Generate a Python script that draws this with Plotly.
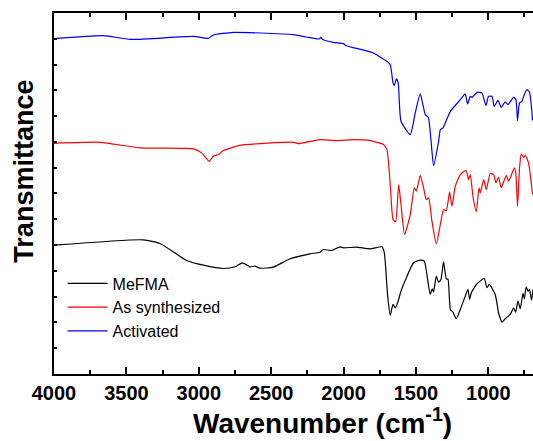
import plotly.graph_objects as go

# Wavenumbers (cm^-1) and transmittance (arbitrary units, offset curves)
wn_blue = [4000, 3659, 3472, 3037, 2934, 2899, 2761, 2575, 2347, 2257, 2167, 2157, 2146, 2070, 2001,
           1981, 1794, 1700, 1677, 1658, 1649, 1635, 1622, 1603, 1539, 1504, 1470, 1435, 1414, 1396,
           1378, 1343, 1331, 1313, 1262, 1193, 1159, 1143, 1124, 1111, 1078, 1044, 1016, 998, 974,
           959, 933, 910, 883, 864, 825, 809, 798, 784, 767, 756, 733, 715, 694]
t_blue = [344, 347, 343.3, 346.3, 344.3, 347.7, 350.3, 349.7, 348, 345.7, 343.7, 345.3, 343.5, 340.3, 339,
          337, 329.7, 321.3, 318, 299.7, 297, 303.7, 299.7, 261.3, 248, 270, 288.7, 268, 265, 243,
          217, 241.3, 253, 254.7, 271.3, 283, 288.7, 278.7, 286.3, 285.3, 290.3, 289.7, 277, 286.3, 286.3,
          276.3, 282.3, 275.3, 280.7, 278, 285.3, 283, 262, 279.7, 281.3, 286, 293, 290.3, 262]

wn_red = [4000, 3682, 3405, 3037, 2980, 2927, 2899, 2865, 2830, 2715, 2347, 2312, 2162, 2050, 1932,
          1815, 1723, 1700, 1677, 1658, 1640, 1619, 1603, 1578, 1539, 1511, 1497, 1470, 1447, 1428,
          1412, 1389, 1359, 1327, 1309, 1290, 1267, 1251, 1228, 1193, 1154, 1136, 1124, 1106, 1083,
          1064, 1055, 1032, 1014, 986, 963, 947, 929, 910, 876, 860, 820, 809, 798, 784,
          772, 756, 744, 722, 694]
t_red = [239.3, 240.3, 234.7, 233.7, 229.7, 221.3, 226.3, 228, 232, 237.3, 240.3, 239, 243, 242, 243,
         242, 238, 233, 198, 163, 160.7, 198, 178, 148, 168, 194.7, 191.3, 207.3, 194.7, 183,
         184.7, 161.3, 138.7, 161.3, 173, 172, 190.7, 176.3, 196.3, 208, 212.3, 203, 208, 186.3, 170.7,
         194.7, 189.7, 203, 193, 209, 208, 199.7, 205.3, 194.7, 207.3, 201.3, 214.7, 208, 176.3, 214.7,
         228.7, 225.3, 227.3, 219.7, 188]

wn_black = [4000, 3383, 3267, 3084, 2968, 2830, 2749, 2697, 2646, 2611, 2577, 2485, 2369, 2231, 2162,
            2140, 2082, 2024, 2001, 1910, 1815, 1734, 1718, 1695, 1677, 1658, 1642, 1626, 1603, 1573,
            1516, 1470, 1442, 1419, 1401, 1387, 1378, 1359, 1343, 1327, 1309, 1290, 1278, 1262, 1244,
            1221, 1193, 1159, 1140, 1129, 1117, 1078, 1028, 1009, 993, 952, 929, 905, 883, 848,
            825, 811, 795, 779, 760, 751, 738, 726, 715, 701, 691]
t_black = [137.3, 142.7, 139, 122, 117.3, 114, 115.7, 119.7, 115.7, 116.3, 114.3, 115.3, 123.7, 128.7, 130.3,
           133, 132, 135.7, 134.7, 135.3, 133.7, 135.7, 129.7, 86.3, 67, 78, 74.7, 79.7, 91.3, 102.3,
           119.7, 122.3, 121.3, 103, 88, 93.7, 90.3, 106.3, 100.3, 103, 120.7, 103.7, 103, 73, 70.3,
           63.7, 73, 86.3, 93, 83, 89.7, 98.7, 104, 94.7, 98, 88, 69.7, 60.3, 63.7, 68,
           74.7, 70.3, 81.3, 73.7, 89, 83.7, 95.7, 91.3, 93, 82.3, 93]

series_names = ["MeFMA", "As synthesized", "Activated"]
x_tick_vals = [4000, 3500, 3000, 2500, 2000, 1500, 1000]

fig = go.Figure()
for name, xs, ys, col in [(series_names[0], wn_black, t_black, "#000000"),
                          (series_names[1], wn_red, t_red, "#ff0000"),
                          (series_names[2], wn_blue, t_blue, "#0000ff")]:
    fig.add_trace(go.Scatter(x=xs, y=ys, mode="lines", name=name,
                             line=dict(color=col, width=1.2, shape="spline", smoothing=0.5)))

fig.update_layout(
    width=533, height=441,
    margin=dict(l=54, r=0, t=13, b=67),
    paper_bgcolor="white", plot_bgcolor="white",
    font=dict(family="Liberation Sans, Arial, sans-serif", color="black"),
    showlegend=True,
    legend=dict(x=0.018, y=0.298, xanchor="left", yanchor="top",
                font=dict(size=16, family="Liberation Sans, Arial, sans-serif"),
                itemwidth=40,
                bgcolor="rgba(0,0,0,0)", tracegroupgap=0),
    xaxis=dict(range=[4000, 691], showline=True, linewidth=2.2, linecolor="black", mirror="ticks",
               ticks="inside", ticklen=7, tickwidth=1.5, tickcolor="black",
               tickvals=x_tick_vals, ticktext=["<b>%d</b>" % v for v in x_tick_vals],
               tickfont=dict(size=20, family="Liberation Sans, Arial, sans-serif", weight="bold"),
               showgrid=False, zeroline=False,
               minor=dict(dtick=250, tick0=0, ticks="inside", ticklen=3.5, tickwidth=1.5,
                          tickcolor="black", showgrid=False)),
    yaxis=dict(range=[8.4, 369.7], showline=True, linewidth=2.2, linecolor="black", mirror=False,
               ticks="inside", ticklen=3, tickwidth=1.5, tickcolor="black",
               tick0=8.4, dtick=25.81, showticklabels=False,
               showgrid=False, zeroline=False),
    annotations=[
        dict(text="<b>Wavenumber (cm<sup>-1</sup>)</b>", x=0.5595, y=-0.131, xref="paper", yref="paper",
             xanchor="center", yanchor="middle", showarrow=False,
             font=dict(size=28, family="Liberation Sans, Arial, sans-serif", color="black")),
        dict(text="<b>Transmittance</b>", x=-0.0626, y=0.5606, xref="paper", yref="paper",
             xanchor="center", yanchor="middle", textangle=-90, showarrow=False,
             font=dict(size=27, family="Liberation Sans, Arial, sans-serif", color="black")),
    ],
)

fig.write_html("out.html")
